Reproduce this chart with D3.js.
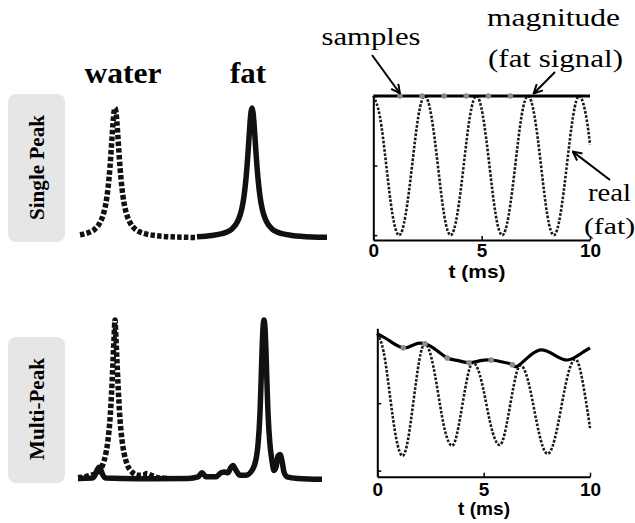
<!DOCTYPE html>
<html>
<head>
<meta charset="utf-8">
<script src="https://cdn.jsdelivr.net/npm/d3@7"></script>
<style>
  body { margin: 0; background: #fff; }
  svg { display: block; }
</style>
</head>
<body>
<div id="chart"></div>
<script>
// spectra: [frequency position, relative amplitude]
const waterSingle = [[2,0.025],[7,0.033],[12,0.046],[17,0.07],[22,0.119],[25,0.174],[27,0.232],[29,0.321],[31,0.457],[32,0.548],[33,0.654],[34,0.771],[35,0.883],[36,0.968],[37,1],[38,0.968],[39,0.883],[40,0.771],[41,0.654],[42,0.548],[43,0.457],[45,0.321],[47,0.232],[49,0.174],[52,0.119],[57,0.07],[62,0.046],[67,0.033],[77,0.019],[97,0.008],[119,0.004]];
const fatSingle = [[119,0.009],[134,0.019],[144,0.033],[149,0.046],[154,0.07],[159,0.119],[162,0.174],[164,0.232],[166,0.321],[168,0.457],[169,0.548],[170,0.654],[171,0.771],[172,0.883],[173,0.968],[174,1],[175,0.968],[176,0.883],[177,0.771],[178,0.654],[179,0.548],[180,0.457],[182,0.321],[184,0.232],[186,0.174],[189,0.119],[194,0.07],[199,0.046],[204,0.033],[214,0.019],[234,0.008],[249,0.006]];
const waterMulti = [[0,0.015],[10,0.025],[20,0.05],[25,0.1],[28,0.17],[30,0.25],[32,0.38],[33,0.48],[34,0.6],[35,0.74],[36,0.88],[37,1],[38,0.88],[39,0.74],[40,0.6],[41,0.48],[42,0.38],[44,0.25],[46,0.17],[49,0.1],[54,0.05],[60,0.03],[65,0.03],[69,0.04],[73,0.03],[80,0.015],[90,0.01]];
const fatMulti = [[0,0.01],[14,0.012],[17,0.03],[19,0.06],[21,0.08],[23,0.06],[25,0.03],[28,0.012],[60,0.008],[110,0.01],[120,0.02],[124,0.045],[128,0.02],[138,0.02],[143,0.045],[147,0.05],[150,0.045],[153,0.08],[155,0.09],[158,0.06],[162,0.03],[168,0.03],[174,0.06],[178,0.13],[180,0.22],[182,0.42],[183,0.6],[184,0.8],[185,0.95],[186,1],[187,0.95],[188,0.8],[189,0.6],[190,0.42],[192,0.22],[194,0.12],[196,0.06],[198,0.08],[200,0.15],[202,0.16],[204,0.12],[206,0.05],[209,0.02],[220,0.01],[244,0.005]];

// time signals: [t (ms), signal]
const realSingle = [[0,1],[0.3,0.71],[0.6,0],[0.89,-0.71],[1.19,-1],[1.49,-0.71],[1.79,0],[2.08,0.71],[2.38,1],[2.68,0.71],[2.98,0],[3.27,-0.71],[3.57,-1],[3.87,-0.71],[4.17,0],[4.46,0.71],[4.76,1],[5.06,0.71],[5.36,0],[5.65,-0.71],[5.95,-1],[6.25,-0.71],[6.55,0],[6.84,0.71],[7.14,1],[7.44,0.71],[7.74,0],[8.03,-0.71],[8.33,-1],[8.63,-0.71],[8.93,0],[9.22,0.71],[9.52,1],[9.82,0.71],[10,0.3]];
const magSingle = [[0,1],[10,1]];
const realMulti = [[0,1.03],[0.295,0.765],[0.59,0.125],[0.885,-0.515],[1.18,-0.78],[1.445,-0.537],[1.71,0.05],[1.975,0.637],[2.24,0.88],[2.555,0.659],[2.87,0.125],[3.185,-0.409],[3.5,-0.63],[3.75,-0.45],[4.005,-0.015],[4.26,0.42],[4.51,0.6],[4.82,0.42],[5.125,-0.01],[5.43,-0.44],[5.74,-0.62],[5.99,-0.45],[6.245,-0.03],[6.5,0.39],[6.75,0.56],[7.065,0.36],[7.38,-0.1],[7.695,-0.56],[8.01,-0.75],[8.33,-0.545],[8.655,-0.05],[8.98,0.445],[9.3,0.65],[9.575,0.445],[9.85,-0.05],[10,-0.37]];
const magMulti = [[0,1.03],[0.6,0.92],[1.22,0.82],[1.75,0.87],[2.24,0.88],[2.8,0.78],[3.29,0.67],[3.8,0.63],[4.31,0.6],[4.85,0.63],[5.35,0.64],[5.9,0.61],[6.35,0.57],[6.6,0.55],[7.2,0.71],[7.76,0.79],[8.35,0.71],[8.95,0.64],[9.5,0.72],[10,0.82]];

const sampleT = [1.23, 2.25, 3.27, 4.29, 5.31, 6.33];
const sampleSingle = [1, 1, 1, 1, 1, 1];
const sampleTMulti = [1.22, 2.24, 3.29, 4.31, 5.35, 6.35];
const sampleMulti = [0.82, 0.88, 0.67, 0.6, 0.64, 0.57];

const tTicks = [0, 5, 10];
const yTicks = [-1, 0, 1];
const peakNames = ["water", "fat"];
const rowNames = ["Single Peak", "Multi-Peak"];

const W = 635, H = 523;
const serif = "'Liberation Serif', 'Times New Roman', serif";
const sans = "'Liberation Sans', Arial, sans-serif";

const svg = d3.select("#chart").append("svg")
  .attr("width", W).attr("height", H)
  .style("background", "#fff");

svg.append("defs").append("marker")
  .attr("id", "arrow")
  .attr("viewBox", "0 0 10 10")
  .attr("refX", 9).attr("refY", 5)
  .attr("markerUnits", "userSpaceOnUse")
  .attr("markerWidth", 11).attr("markerHeight", 11)
  .attr("orient", "auto")
  .append("path")
  .attr("d", "M1,1 L9,5 L1,9")
  .attr("fill", "none")
  .attr("stroke", "#000")
  .attr("stroke-width", 1.8);

// row label boxes
const boxes = [{y: 94, h: 148, cy: 167.5, len: 105}, {y: 337, h: 146, cy: 409, len: 102}];
boxes.forEach((b, i) => {
  svg.append("rect")
    .attr("x", 8).attr("y", b.y).attr("width", 57).attr("height", b.h)
    .attr("rx", 8).attr("fill", "#e6e6e6");
  svg.append("text")
    .attr("transform", `translate(43.5,${b.cy}) rotate(-90)`)
    .attr("text-anchor", "middle")
    .attr("font-family", serif).attr("font-weight", "bold").attr("font-size", 20)
    .attr("textLength", b.len).attr("lengthAdjust", "spacingAndGlyphs")
    .text(rowNames[i]);
});

// peak names
[{x: 123, len: 77}, {x: 248, len: 36}].forEach((p, i) => {
  svg.append("text")
    .attr("x", p.x).attr("y", 83)
    .attr("text-anchor", "middle")
    .attr("font-family", serif).attr("font-weight", "bold").attr("font-size", 30)
    .attr("textLength", p.len).attr("lengthAdjust", "spacingAndGlyphs")
    .text(peakNames[i]);
});

// spectra
const fx = d3.scaleLinear().domain([0, 250]).range([78, 328]);
const fyTop = d3.scaleLinear().domain([0, 1]).range([238, 108]);
const fyBot = d3.scaleLinear().domain([0, 1]).range([480, 320]);

function spectrum(data, ys, dashed) {
  const line = d3.line().x(d => fx(d[0])).y(d => ys(d[1])).curve(d3.curveMonotoneX);
  svg.append("path")
    .attr("d", line(data))
    .attr("fill", "none")
    .attr("stroke", "#111")
    .attr("stroke-width", 5.5)
    .attr("stroke-linejoin", "round")
    .attr("stroke-dasharray", dashed ? "4.5,2.2" : null);
}
spectrum(waterSingle, fyTop, true);
spectrum(fatSingle, fyTop, false);
spectrum(fatMulti, fyBot, false);
spectrum(waterMulti, fyBot, true);

// time-domain panels
function panel(cfg) {
  const x = d3.scaleLinear().domain([0, 10]).range(cfg.xr);
  const y = d3.scaleLinear().domain(cfg.yd).range(cfg.yr);
  const g = svg.append("g");

  const xAxis = g.append("g")
    .attr("transform", `translate(0,${cfg.yr[0]})`)
    .call(d3.axisBottom(x).tickValues(tTicks).tickSizeInner(-4).tickSizeOuter(0).tickPadding(cfg.pad));
  xAxis.select(".domain").attr("stroke-width", 2);
  xAxis.selectAll(".tick line").attr("stroke-width", 1.5);
  xAxis.selectAll("text")
    .attr("font-family", sans).attr("font-weight", "bold").attr("font-size", 19).attr("fill", "#000");

  const yAxis = g.append("g")
    .attr("transform", `translate(${cfg.xr[0]},0)`)
    .call(d3.axisLeft(y).tickValues(yTicks).tickSizeInner(-4).tickSizeOuter(0).tickFormat(""));
  yAxis.select(".domain").attr("stroke-width", 2);
  yAxis.selectAll(".tick line").attr("stroke-width", 1.5);

  const line = d3.line().x(d => x(d[0])).y(d => y(d[1])).curve(d3.curveNatural);
  g.append("path")
    .attr("d", line(cfg.real))
    .attr("fill", "none").attr("stroke", "#1a1a1a")
    .attr("stroke-width", 2.6).attr("stroke-dasharray", "2.6,1.6");
  g.append("path")
    .attr("d", line(cfg.mag))
    .attr("fill", "none").attr("stroke", "#000")
    .attr("stroke-width", 3.2);
  g.selectAll("circle.s")
    .data(cfg.st)
    .join("circle")
    .attr("class", "s")
    .attr("cx", d => x(d))
    .attr("cy", (d, i) => y(cfg.sv[i]))
    .attr("r", 2.8)
    .attr("fill", "#8a8a8a");

  g.append("text")
    .attr("x", cfg.lx).attr("y", cfg.ly)
    .attr("text-anchor", "middle")
    .attr("font-family", sans).attr("font-weight", "bold").attr("font-size", 18)
    .attr("textLength", cfg.llen).attr("lengthAdjust", "spacingAndGlyphs")
    .text("t (ms)");
  return {x, y};
}

const topPanel = panel({
  xr: [373.3, 590], yd: [-1.07, 1], yr: [240, 96], pad: 4,
  real: realSingle, mag: magSingle, st: sampleT, sv: sampleSingle,
  lx: 477, ly: 278, llen: 57
});
panel({
  xr: [377.3, 590], yd: [-1.09, 1.11], yr: [476.7, 328.3], pad: 6,
  real: realMulti, mag: magMulti, st: sampleTMulti, sv: sampleMulti,
  lx: 484, ly: 515, llen: 52
});

// annotations
function note(txt, x, y, len, anchor, size) {
  svg.append("text")
    .attr("x", x).attr("y", y)
    .attr("text-anchor", anchor || "start")
    .attr("font-family", serif).attr("font-size", size || 26)
    .attr("textLength", len).attr("lengthAdjust", "spacingAndGlyphs")
    .text(txt);
}
note("samples", 371, 45, 99, "middle");
note("magnitude", 487, 26, 133);
note("(fat signal)", 488, 67, 135);
note("real", 588, 201, 43);
note("(fat)", 584, 234, 51, "start", 24);

function arrow(x1, y1, x2, y2) {
  svg.append("line")
    .attr("x1", x1).attr("y1", y1).attr("x2", x2).attr("y2", y2)
    .attr("stroke", "#000").attr("stroke-width", 2)
    .attr("marker-end", "url(#arrow)");
}
arrow(372, 55, topPanel.x(1.23), topPanel.y(1) - 2.5);
arrow(555, 72, topPanel.x(7.4), topPanel.y(1) - 2.5);
arrow(610, 180, topPanel.x(9.16) + 1, topPanel.y(0.2));
</script>
</body>
</html>
